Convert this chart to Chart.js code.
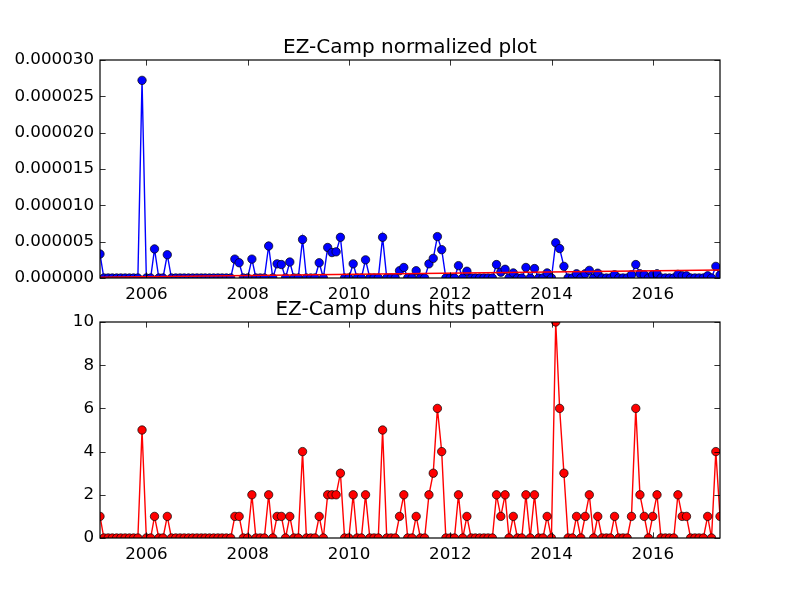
<!DOCTYPE html>
<html>
<head>
<meta charset="utf-8">
<script src="https://cdn.jsdelivr.net/npm/chart.js@4.4.0/dist/chart.umd.min.js"></script>
<style>
  html, body { margin: 0; padding: 0; background: #ffffff; }
  #wrap { position: relative; width: 800px; height: 600px; }
  .box { position: absolute; left: 0; width: 800px; height: 300px; }
</style>
</head>
<body>
<div id="wrap">
  <div class="box" style="top:0px"><canvas id="top" width="800" height="300"></canvas></div>
  <div class="box" style="top:300px"><canvas id="bottom" width="800" height="300"></canvas></div>
</div>
<script>
// ---- DATA ----
const startYear = 2005;           // first month: Jan 2005 (month-end dates)
const xTickYears = [2006, 2008, 2010, 2012, 2014, 2016];
const topYTicks = [0, 0.000005, 0.00001, 0.000015, 0.00002, 0.000025, 0.00003];
const bottomYTicks = [0, 2, 4, 6, 8, 10];

// monthly duns hits, one row per year (2005 ... 2017 Jan-Apr)
const hits = [
  1,0,0,0,0,0,0,0,0,0,5,0,
  0,1,0,0,1,0,0,0,0,0,0,0,
  0,0,0,0,0,0,0,0,1,1,0,0,
  2,0,0,0,2,0,1,1,0,1,0,0,
  4,0,0,0,1,0,2,2,2,3,0,0,
  2,0,0,2,0,0,0,5,0,0,0,1,
  2,0,0,1,0,0,2,3,6,4,0,0,
  0,2,0,1,0,0,0,0,0,0,2,1,
  2,0,1,0,0,2,0,2,0,0,1,0,
  10,6,3,0,0,1,0,1,2,0,1,0,
  0,0,1,0,0,0,1,6,2,1,0,1,
  2,0,0,0,0,2,1,1,0,0,0,0,
  1,0,4,1
];

// normalized values, one row per year
const normalized = [
  3.3e-6,0,0,0,0,0,0,0,0,0,27.2e-6,0,
  0,4.0e-6,0,0,3.2e-6,0,0,0,0,0,0,0,
  0,0,0,0,0,0,0,0,2.6e-6,2.1e-6,0,0,
  2.6e-6,0,0,0,4.4e-6,0,1.95e-6,1.85e-6,0,2.2e-6,0,0,
  5.3e-6,0,0,0,2.1e-6,0,4.2e-6,3.5e-6,3.6e-6,5.6e-6,0,0,
  1.95e-6,0,0,2.5e-6,0,0,0,5.6e-6,0,0,0,1.0e-6,
  1.45e-6,0,0,1.0e-6,0,0,1.95e-6,2.7e-6,5.7e-6,3.9e-6,0,0,
  0,1.7e-6,0,0.93e-6,0,0,0,0,0,0,1.85e-6,0.8e-6,
  1.2e-6,0,0.7e-6,0,0,1.45e-6,0,1.3e-6,0,0,0.7e-6,0,
  4.85e-6,4.05e-6,1.6e-6,0,0,0.58e-6,0,0.58e-6,1.05e-6,0,0.66e-6,0,
  0,0,0.44e-6,0,0,0,0.44e-6,1.85e-6,0.58e-6,0.44e-6,0,0.44e-6,
  0.58e-6,0,0,0,0,0.5e-6,0.3e-6,0.3e-6,0,0,0,0,
  0.3e-6,0,1.6e-6,0.4e-6
];

// trend line (red) on normalized plot: value at first and last month
const trendEnds = [0.1e-6, 1.1e-6];

// ---- helpers ----
// month index -> decimal year at the last day of that month
function monthEnd(i) {
  const y = startYear + Math.floor(i / 12);
  const m = i % 12;
  const end = Date.UTC(y, m + 1, 0);
  const jan1 = Date.UTC(y, 0, 1);
  const nextJan1 = Date.UTC(y + 1, 0, 1);
  return y + (end - jan1) / (nextJan1 - jan1);
}
const xs = hits.map((_, i) => monthEnd(i));
const xMin = xs[0], xMax = xs[xs.length - 1];

Chart.defaults.font.family = "'DejaVu Sans', sans-serif";
Chart.defaults.font.size = 16.7;
Chart.defaults.color = '#000000';

const frameAndTicks = {
  id: 'frameAndTicks',
  afterDatasetsDraw(chart) {
    const ctx = chart.ctx, a = chart.chartArea;
    const xs_ = chart.scales.x, ys_ = chart.scales.y;
    ctx.save();
    ctx.strokeStyle = '#000';
    ctx.lineWidth = 0.8;
    const L = 5.6;
    xs_.ticks.forEach(t => {
      const px = Math.round(xs_.getPixelForValue(t.value)) + 0.5;
      ctx.beginPath();
      ctx.moveTo(px, a.bottom); ctx.lineTo(px, a.bottom - L);
      ctx.moveTo(px, a.top); ctx.lineTo(px, a.top + L);
      ctx.stroke();
    });
    ys_.ticks.forEach(t => {
      const py = Math.round(ys_.getPixelForValue(t.value)) + 0.5;
      ctx.beginPath();
      ctx.moveTo(a.left, py); ctx.lineTo(a.left + L, py);
      ctx.moveTo(a.right, py); ctx.lineTo(a.right - L, py);
      ctx.stroke();
    });
    ctx.lineWidth = 1.2;
    ctx.strokeRect(a.left, a.top, a.right - a.left, a.bottom - a.top);
    ctx.restore();
  },
  afterDraw(chart) {
    const t = chart.options.plugins.frameAndTicks.title;
    const ctx = chart.ctx, a = chart.chartArea;
    ctx.save();
    ctx.fillStyle = '#000';
    ctx.font = "20px 'DejaVu Sans', sans-serif";
    ctx.textAlign = 'center';
    ctx.textBaseline = 'alphabetic';
    ctx.fillText(t, (a.left + a.right) / 2, a.top - 7);
    ctx.restore();
  }
};

function makeChart(id, datasets, yTicks, fmt, padTop, xAxisH, title) {
  return new Chart(document.getElementById(id), {
    type: 'line',
    data: { datasets },
    options: {
      responsive: false,
      animation: false,
      devicePixelRatio: 1,
      layout: { padding: { left: 0, right: 80, top: padTop, bottom: 0 } },
      plugins: {
        legend: { display: false },
        tooltip: { enabled: false },
        title: { display: false },
        frameAndTicks: { title }
      },
      scales: {
        x: {
          type: 'linear',
          min: xMin, max: xMax,
          grid: { display: false, drawTicks: false },
          border: { display: false },
          ticks: { padding: 7, autoSkip: false, maxRotation: 0, callback: v => String(v) },
          afterBuildTicks: s => { s.ticks = xTickYears.map(v => ({ value: v })); },
          afterFit: s => { s.height = xAxisH; }
        },
        y: {
          type: 'linear',
          min: yTicks[0], max: yTicks[yTicks.length - 1],
          grid: { display: false, drawTicks: false },
          border: { display: false },
          ticks: { padding: 6, autoSkip: false, callback: fmt },
          afterBuildTicks: s => { s.ticks = yTicks.map(v => ({ value: v })); },
          afterFit: s => { s.width = 100; }
        }
      }
    },
    plugins: [frameAndTicks]
  });
}

const topData = normalized.map((v, i) => ({ x: xs[i], y: v }));
const trendData = [{ x: xMin, y: trendEnds[0] }, { x: xMax, y: trendEnds[1] }];
const bottomData = hits.map((v, i) => ({ x: xs[i], y: v }));

makeChart('top', [
  { data: trendData, borderColor: '#ff0000', borderWidth: 1.4, pointRadius: 0, tension: 0, clip: 0, order: 0 },
  { data: topData, borderColor: '#0000ff', borderWidth: 1.4, pointRadius: 4.2,
    pointBackgroundColor: '#0000ff', pointBorderColor: '#000000', pointBorderWidth: 0.7,
    tension: 0, clip: 0, order: 1 }
], topYTicks, v => Number(v).toFixed(6), 60, 22, 'EZ-Camp normalized plot');

makeChart('bottom', [
  { data: bottomData, borderColor: '#ff0000', borderWidth: 1.4, pointRadius: 4.2,
    pointBackgroundColor: '#ff0000', pointBorderColor: '#000000', pointBorderWidth: 0.7,
    tension: 0, clip: 0 }
], bottomYTicks, v => String(v), 22, 62, 'EZ-Camp duns hits pattern');
</script>
</body>
</html>
